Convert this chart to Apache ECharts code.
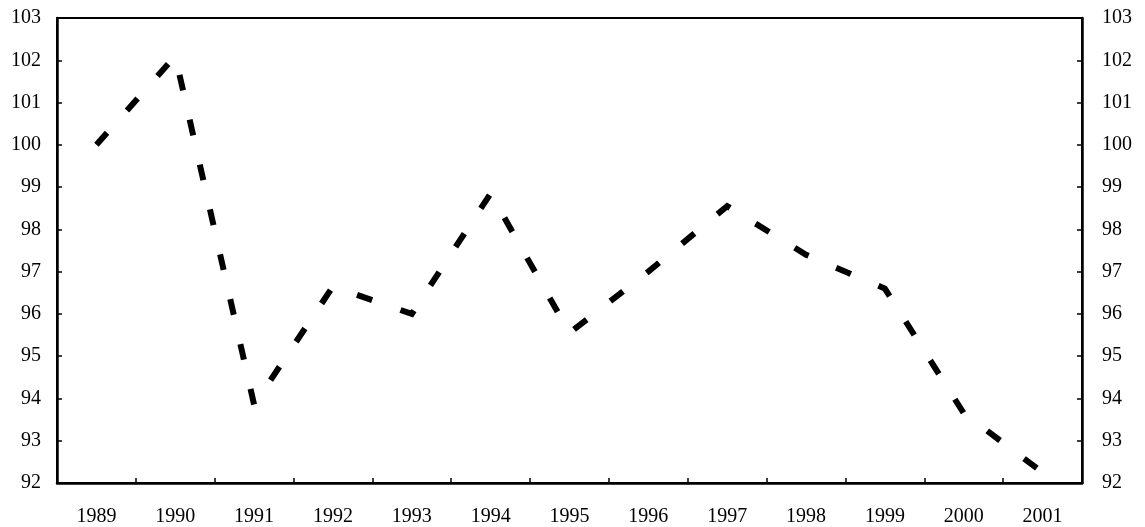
<!DOCTYPE html>
<html><head><meta charset="utf-8">
<script src="https://cdn.jsdelivr.net/npm/echarts@6/dist/echarts.min.js"></script>
<style>html,body{margin:0;padding:0;background:#fff}#c{width:1145px;height:527px}</style>
</head><body><div id="c"></div>
<script>
var years = ['1989','1990','1991','1992','1993','1994','1995','1996','1997','1998','1999','2000','2001'];
var values = [100.0, 102.1, 93.85, 96.65, 96.0, 98.85, 95.55, 97.0, 98.55, 97.4, 96.6, 93.65, 92.25];
var yMin = 92, yMax = 103, yStep = 1;

var chart = echarts.init(document.getElementById('c'));
var font = 'Liberation Serif';
function yAxis(pos, margin) {
  return {
    type: 'value', position: pos, min: yMin, max: yMax, interval: yStep,
    splitLine: {show: false},
    axisLine: {show: true, lineStyle: {color: '#000', width: 2.5}},
    axisTick: {show: true, inside: true, length: 5, lineStyle: {color: '#000', width: 1.5}},
    axisLabel: {color: '#000', fontFamily: font, fontSize: 20, margin: margin}
  };
}
chart.setOption({
  animation: false,
  backgroundColor: '#fff',
  grid: {left: 57, right: 63, top: 18, bottom: 43, show: true, borderColor: '#000', borderWidth: 2},
  xAxis: {
    type: 'category', data: years, boundaryGap: true,
    axisLine: {lineStyle: {color: '#000', width: 2.5}},
    axisTick: {show: true, inside: true, length: 5, lineStyle: {color: '#000', width: 1.5}},
    axisLabel: {color: '#000', fontFamily: font, fontSize: 20, margin: 24}
  },
  yAxis: [yAxis('left', 16), yAxis('right', 20)],
  series: [{
    type: 'line', data: values, yAxisIndex: 0, symbol: 'none',
    lineStyle: {color: '#000', width: 6, type: [16, 30], cap: 'butt', join: 'miter'}
  }]
});
</script></body></html>
